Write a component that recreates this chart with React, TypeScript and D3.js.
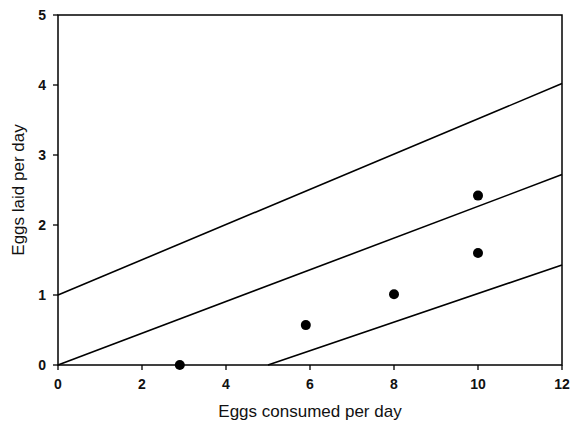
import React from 'react';
import * as d3 from 'd3';

// scatter points (eggs consumed, eggs laid)
const consumed = [2.9, 5.9, 8, 10, 10];
const laid = [0, 0.57, 1.01, 2.42, 1.6];

// reference lines, each as two end points
const lineStarts = [[0, 1], [0, 0], [5, 0]];
const lineEnds = [[12, 4.02], [12, 2.72], [12, 1.43]];

const xTicks = [0, 2, 4, 6, 8, 10, 12];
const yTicks = [0, 1, 2, 3, 4, 5];

const width = 570;
const height = 422;
const margin = { top: 15, right: 8, bottom: 57, left: 58 };

const x = d3.scaleLinear().domain([0, 12]).range([margin.left, width - margin.right]);
const y = d3.scaleLinear().domain([0, 5]).range([height - margin.bottom, margin.top]);

const lf = d3.line<number[]>()
    .x(d => x(d[0]))
    .y(d => y(d[1]));

export default function App() {
    const font = 'Arial, "Liberation Sans", sans-serif';
    return (
        <svg width={width} height={height}
            style={{ position: 'absolute', left: 0, top: 0, background: '#fff' }}>
            <rect x={x(0)} y={y(5)} width={x(12) - x(0)} height={y(0) - y(5)}
                fill="none" stroke="#000" strokeWidth={1.5} />

            {xTicks.map(t => (
                <g key={'x' + t}>
                    <line x1={x(t)} x2={x(t)} y1={y(0)} y2={y(0) + 5} stroke="#000" strokeWidth={1.3} />
                    <text x={x(t)} y={y(0) + 24} textAnchor="middle" fontFamily={font}
                        fontSize={14} fontWeight="bold" fill="#111">{t}</text>
                </g>
            ))}
            {yTicks.map(t => (
                <g key={'y' + t}>
                    <line x1={x(0) - 5} x2={x(0)} y1={y(t)} y2={y(t)} stroke="#000" strokeWidth={1.3} />
                    <text x={x(0) - 12} y={y(t) + 5} textAnchor="end" fontFamily={font}
                        fontSize={14} fontWeight="bold" fill="#111">{t}</text>
                </g>
            ))}

            {lineStarts.map((s, i) => (
                <path key={'l' + i} d={lf([s, lineEnds[i]]) || ''} stroke="#000"
                    strokeWidth={1.6} fill="none" />
            ))}

            {consumed.map((c, i) => (
                <circle key={'p' + i} cx={x(c)} cy={y(laid[i])} r={5} fill="#000" />
            ))}

            <text x={(x(0) + x(12)) / 2} y={417} textAnchor="middle" fontFamily={font}
                fontSize={17} fill="#111">Eggs consumed per day</text>
            <text transform={`translate(24,${(y(0) + y(5)) / 2}) rotate(-90)`} textAnchor="middle"
                fontFamily={font} fontSize={17} fill="#111">Eggs laid per day</text>
        </svg>
    );
}
